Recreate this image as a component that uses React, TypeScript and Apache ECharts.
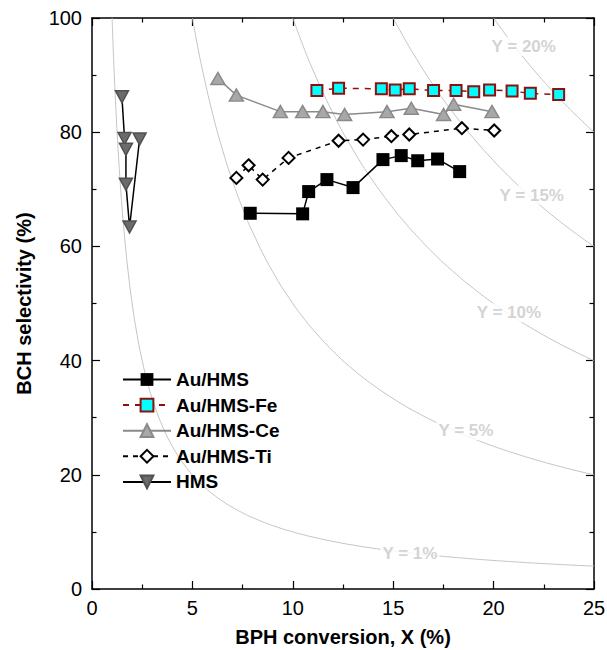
import React, { useEffect, useRef } from "react";
import * as echarts from "echarts";

// Measured data: [BPH conversion X (%), BCH selectivity (%)]
const auHms: number[][] = [
  [7.88, 65.8], [10.49, 65.7], [10.79, 69.6], [11.7, 71.7], [13.0, 70.3],
  [14.49, 75.2], [15.4, 75.9], [16.22, 75.0], [17.21, 75.3], [18.31, 73.1],
];
const auHmsFe: number[][] = [
  [11.2, 87.3], [12.28, 87.7], [14.41, 87.6], [15.1, 87.4], [15.8, 87.6],
  [17.01, 87.3], [18.13, 87.3], [19.01, 87.1], [19.8, 87.4], [20.92, 87.2],
  [21.83, 86.8], [23.24, 86.6],
];
const auHmsCe: number[][] = [
  [6.27, 89.4], [7.19, 86.5], [9.38, 83.6], [10.49, 83.6], [11.5, 83.6],
  [12.58, 83.1], [14.69, 83.6], [15.9, 84.2], [17.51, 83.1], [18.01, 84.9],
  [19.92, 83.6],
];
const auHmsTi: number[][] = [
  [7.19, 72.0], [7.8, 74.2], [8.5, 71.7], [9.79, 75.5], [12.28, 78.5],
  [13.5, 78.7], [14.91, 79.3], [15.8, 79.6], [18.42, 80.7], [20.03, 80.3],
];
const hms: number[][] = [
  [1.49, 86.2], [1.62, 78.9], [1.69, 77.0], [1.69, 70.9], [1.87, 63.4], [2.37, 78.8],
];

// Iso-yield levels Y (%) with the positions of their labels [X, S]
const yieldLevels = [1, 5, 10, 15, 20];
const yieldLabelPos: number[][] = [
  [15.83, 6.3], [18.62, 27.7], [20.76, 48.4], [21.9, 69.0], [21.5, 95.0],
];
// X positions at which each iso-yield line Y = X*S/100 is drawn
const xSamples = [
  1, 1.05, 1.1, 1.2, 1.3, 1.4, 1.5, 1.65, 1.8, 2, 2.25, 2.5, 2.75, 3, 3.5, 4, 4.5,
  5, 5.25, 5.5, 6, 6.5, 7, 7.5, 8, 9, 10, 10.5, 11, 12, 13, 14, 15, 15.5, 16, 17,
  18, 19, 20, 20.5, 21, 22, 23, 24, 25,
];

const xTicks = { min: 0, max: 25, interval: 5 };
const yTicks = { min: 0, max: 100, interval: 20 };

const FONT = "'Liberation Sans', Arial, sans-serif";

export default function App() {
  const ref = useRef<HTMLDivElement>(null);
  useEffect(() => {
    if (!ref.current) return;
    document.body.style.margin = "0";
    const chart = echarts.init(ref.current, undefined, { renderer: "svg", width: 607, height: 650 });

    const axisCommon = (show: boolean) => ({
      axisLine: { show: true, onZero: false, lineStyle: { color: "#000", width: 1.5 } },
      axisTick: { show: true, inside: true, length: 8, lineStyle: { color: "#000", width: 1.2 } },
      minorTick: { show: true, splitNumber: 2, length: 4.5, lineStyle: { color: "#000", width: 1.2 } },
      splitLine: { show: false },
      axisLabel: { show, color: "#000", fontSize: 20, fontFamily: FONT },
    });

    const curveSeries = yieldLevels.map((y) => ({
      type: "line",
      name: "Y" + y,
      data: xSamples.filter((x) => x >= y).map((x) => [x, (100 * y) / x]),
      symbol: "none",
      silent: true,
      smooth: true,
      lineStyle: { color: "#c4c4c4", width: 1 },
      z: 1,
      legendHoverLink: false,
    }));

    const labelSeries = {
      type: "scatter",
      name: "yieldLabels",
      silent: true,
      symbolSize: 1,
      itemStyle: { color: "rgba(0,0,0,0)" },
      z: 2,
      data: yieldLabelPos.map((p, i) => ({ value: p, name: `Y = ${yieldLevels[i]}%` })),
      label: {
        show: true,
        position: "inside",
        formatter: (p: any) => p.name,
        color: "#c8c8c8",
        fontWeight: "bold",
        fontSize: 17,
        fontFamily: FONT,
        backgroundColor: "#fff",
        padding: [1, 2],
      },
    };

    chart.setOption({
      animation: false,
      backgroundColor: "#fff",
      grid: {
        left: 92,
        right: 13,
        top: 18,
        bottom: 61,
        containLabel: false,
        outerBoundsMode: "none",
      },
      xAxis: [
        {
          type: "value",
          position: "bottom",
          ...xTicks,
          name: "BPH conversion, X (%)",
          nameLocation: "middle",
          nameGap: 38,
          nameTextStyle: { fontSize: 20, fontWeight: "bold", color: "#000", fontFamily: FONT },
          ...axisCommon(true),
          axisLabel: { show: true, color: "#000", fontSize: 20, fontFamily: FONT, margin: 9 },
        },
        { type: "value", position: "top", ...xTicks, ...axisCommon(false) },
      ],
      yAxis: [
        {
          type: "value",
          position: "left",
          ...yTicks,
          name: "BCH selectivity (%)",
          nameLocation: "middle",
          nameGap: 58,
          nameTextStyle: { fontSize: 20, fontWeight: "bold", color: "#000", fontFamily: FONT },
          ...axisCommon(true),
          axisLabel: { show: true, color: "#000", fontSize: 20, fontFamily: FONT, margin: 10 },
        },
        { type: "value", position: "right", ...yTicks, ...axisCommon(false) },
      ],
      legend: {
        orient: "vertical",
        left: 122,
        top: 370,
        padding: 0,
        itemWidth: 48,
        itemHeight: 16,
        itemGap: 6.6,
        data: ["Au/HMS", "Au/HMS-Fe", "Au/HMS-Ce", "Au/HMS-Ti", "HMS"],
        textStyle: { fontSize: 19, fontWeight: "bold", color: "#000", fontFamily: FONT },
        selectedMode: false,
      },
      series: [
        ...curveSeries,
        labelSeries,
        {
          type: "line",
          name: "Au/HMS",
          data: auHms,
          symbol: "rect",
          symbolSize: 13,
          itemStyle: { color: "#000", borderColor: "#000", borderWidth: 0 },
          lineStyle: { color: "#000", width: 1.5 },
          z: 5,
        },
        {
          type: "line",
          name: "Au/HMS-Fe",
          data: auHmsFe,
          symbol: "rect",
          symbolSize: 11,
          itemStyle: { color: "#00ffff", borderColor: "#8b1010", borderWidth: 2 },
          lineStyle: { color: "#8b1010", width: 1.5, type: [6, 6] },
          z: 5,
        },
        {
          type: "line",
          name: "Au/HMS-Ce",
          data: auHmsCe,
          symbol: "triangle",
          symbolSize: [14, 12],
          itemStyle: { color: "#a8a8a8", borderColor: "#8a8a8a", borderWidth: 1.5 },
          lineStyle: { color: "#8a8a8a", width: 1.5 },
          z: 4,
        },
        {
          type: "line",
          name: "Au/HMS-Ti",
          data: auHmsTi,
          symbol: "diamond",
          symbolSize: 12,
          itemStyle: { color: "#fff", borderColor: "#000", borderWidth: 2 },
          lineStyle: { color: "#000", width: 1.5, type: [5, 5] },
          z: 5,
        },
        {
          type: "line",
          name: "HMS",
          data: hms,
          symbol: "triangle",
          symbolRotate: 180,
          symbolSize: [13, 12],
          itemStyle: { color: "#6b6b6b", borderColor: "#505050", borderWidth: 1.5 },
          lineStyle: { color: "#000", width: 1.5 },
          z: 5,
        },
      ],
    });
    return () => chart.dispose();
  }, []);

  return <div ref={ref} style={{ width: 607, height: 650, background: "#fff" }} />;
}
